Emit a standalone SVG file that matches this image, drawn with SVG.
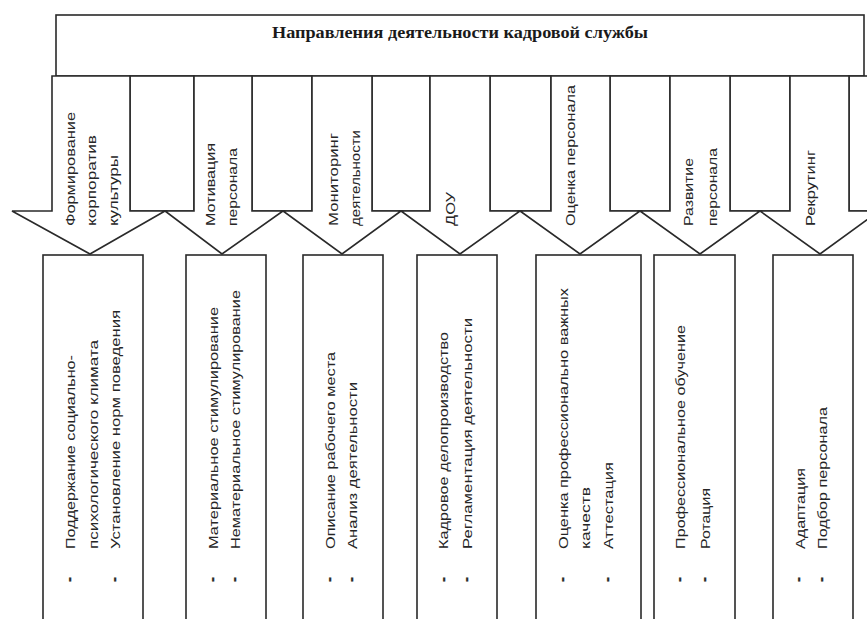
<svg xmlns="http://www.w3.org/2000/svg" width="867" height="619" viewBox="0 0 867 619">
<style>
.ln{fill:#fff;stroke:#2a2a2a;stroke-width:1.6;stroke-linejoin:miter}
.t{font-family:"Liberation Sans",Arial,sans-serif;font-size:12px;fill:#262626}
.b{font-family:"Liberation Sans",Arial,sans-serif;font-size:15px;font-weight:bold;fill:#262626;stroke:#262626;stroke-width:0.4}
.h{font-family:"Liberation Serif","Times New Roman",serif;font-size:16px;font-weight:bold;fill:#1a1a1a}
</style>
<rect width="867" height="619" fill="#fff"/>
<g id="header">
<rect class="ln" x="56" y="15" width="808" height="61"/>
<text class="h" x="460" y="38" text-anchor="middle" textLength="376" lengthAdjust="spacingAndGlyphs">Направления деятельности кадровой службы</text>
</g>
<g id="separators">
<rect class="ln" x="130" y="76" width="64" height="135"/>
<rect class="ln" x="252" y="76" width="60" height="135"/>
<rect class="ln" x="372" y="76" width="58" height="135"/>
<rect class="ln" x="490" y="76" width="61" height="135"/>
<rect class="ln" x="610" y="76" width="60" height="135"/>
<rect class="ln" x="730" y="76" width="60" height="135"/>
<rect class="ln" x="849" y="76" width="60" height="135"/>
</g>
<g id="connectors">
<g id="dir-1">
<polygon class="ln" points="52,76 52,211 12,211 90,254 165,211 130,211 130,76"/>
<text class="t" transform="translate(74.5,226) rotate(-90)" textLength="114" lengthAdjust="spacingAndGlyphs">Формирование</text>
<text class="t" transform="translate(96,226) rotate(-90)" textLength="91" lengthAdjust="spacingAndGlyphs">корпоратив</text>
<text class="t" transform="translate(117.5,226) rotate(-90)" textLength="71" lengthAdjust="spacingAndGlyphs">культуры</text>
</g>
<g id="dir-2">
<polygon class="ln" points="194,76 194,211 165,211 222,254 283,211 252,211 252,76"/>
<text class="t" transform="translate(214.5,226) rotate(-90)" textLength="83" lengthAdjust="spacingAndGlyphs">Мотивация</text>
<text class="t" transform="translate(236.5,226) rotate(-90)" textLength="78" lengthAdjust="spacingAndGlyphs">персонала</text>
</g>
<g id="dir-3">
<polygon class="ln" points="312,76 312,211 283,211 342,254 401,211 372,211 372,76"/>
<text class="t" transform="translate(337.5,226) rotate(-90)" textLength="93" lengthAdjust="spacingAndGlyphs">Мониторинг</text>
<text class="t" transform="translate(359.5,226) rotate(-90)" textLength="96" lengthAdjust="spacingAndGlyphs">деятельности</text>
</g>
<g id="dir-4">
<polygon class="ln" points="430,76 430,211 401,211 460,254 520,211 490,211 490,76"/>
<text class="t" transform="translate(454.5,226) rotate(-90)" textLength="34" lengthAdjust="spacingAndGlyphs">ДОУ</text>
</g>
<g id="dir-5">
<polygon class="ln" points="551,76 551,211 520,211 580,254 640,211 610,211 610,76"/>
<text class="t" transform="translate(574.5,226) rotate(-90)" textLength="141" lengthAdjust="spacingAndGlyphs">Оценка персонала</text>
</g>
<g id="dir-6">
<polygon class="ln" points="670,76 670,211 640,211 700,254 760,211 730,211 730,76"/>
<text class="t" transform="translate(692.5,226) rotate(-90)" textLength="68" lengthAdjust="spacingAndGlyphs">Развитие</text>
<text class="t" transform="translate(716.5,226) rotate(-90)" textLength="78" lengthAdjust="spacingAndGlyphs">персонала</text>
</g>
<g id="dir-7">
<polygon class="ln" points="790,76 790,211 760,211 820,254 879,211 849,211 849,76"/>
<text class="t" transform="translate(814.5,226) rotate(-90)" textLength="76" lengthAdjust="spacingAndGlyphs">Рекрутинг</text>
</g>
</g>
<g id="task-1">
<rect class="ln" x="43" y="255" width="100" height="380"/>
<text class="b" transform="translate(74,582) rotate(-90)">-</text>
<text class="b" transform="translate(119,582) rotate(-90)">-</text>
<text class="t" transform="translate(74.5,549) rotate(-90)" textLength="194" lengthAdjust="spacingAndGlyphs">Поддержание социально-</text>
<text class="t" transform="translate(97.5,549) rotate(-90)" textLength="209" lengthAdjust="spacingAndGlyphs">психологического климата</text>
<text class="t" transform="translate(119.5,549) rotate(-90)" textLength="239" lengthAdjust="spacingAndGlyphs">Установление норм поведения</text>
</g>
<g id="task-2">
<rect class="ln" x="186" y="255" width="80" height="380"/>
<text class="b" transform="translate(217,582) rotate(-90)">-</text>
<text class="b" transform="translate(239,582) rotate(-90)">-</text>
<text class="t" transform="translate(217.5,549) rotate(-90)" textLength="242" lengthAdjust="spacingAndGlyphs">Материальное стимулирование</text>
<text class="t" transform="translate(239.5,549) rotate(-90)" textLength="259" lengthAdjust="spacingAndGlyphs">Нематериальное стимулирование</text>
</g>
<g id="task-3">
<rect class="ln" x="303" y="255" width="80" height="380"/>
<text class="b" transform="translate(334,582) rotate(-90)">-</text>
<text class="b" transform="translate(356,582) rotate(-90)">-</text>
<text class="t" transform="translate(334.5,549) rotate(-90)" textLength="197" lengthAdjust="spacingAndGlyphs">Описание рабочего места</text>
<text class="t" transform="translate(356.5,549) rotate(-90)" textLength="167" lengthAdjust="spacingAndGlyphs">Анализ деятельности</text>
</g>
<g id="task-4">
<rect class="ln" x="417" y="255" width="80" height="380"/>
<text class="b" transform="translate(448,582) rotate(-90)">-</text>
<text class="b" transform="translate(471,582) rotate(-90)">-</text>
<text class="t" transform="translate(447.5,549) rotate(-90)" textLength="217" lengthAdjust="spacingAndGlyphs">Кадровое делопроизводство</text>
<text class="t" transform="translate(471.5,549) rotate(-90)" textLength="231" lengthAdjust="spacingAndGlyphs">Регламентация  деятельности</text>
</g>
<g id="task-5">
<rect class="ln" x="536" y="255" width="105" height="380"/>
<text class="b" transform="translate(567,582) rotate(-90)">-</text>
<text class="b" transform="translate(612,582) rotate(-90)">-</text>
<text class="t" transform="translate(567.5,549) rotate(-90)" textLength="261" lengthAdjust="spacingAndGlyphs">Оценка профессионально важных</text>
<text class="t" transform="translate(589.5,549) rotate(-90)" textLength="62" lengthAdjust="spacingAndGlyphs">качеств</text>
<text class="t" transform="translate(612.5,549) rotate(-90)" textLength="87" lengthAdjust="spacingAndGlyphs">Аттестация</text>
</g>
<g id="task-6">
<rect class="ln" x="654" y="255" width="81" height="380"/>
<text class="b" transform="translate(684,582) rotate(-90)">-</text>
<text class="b" transform="translate(709,582) rotate(-90)">-</text>
<text class="t" transform="translate(684.5,549) rotate(-90)" textLength="224" lengthAdjust="spacingAndGlyphs">Профессиональное обучение</text>
<text class="t" transform="translate(709.5,549) rotate(-90)" textLength="61" lengthAdjust="spacingAndGlyphs">Ротация</text>
</g>
<g id="task-7">
<rect class="ln" x="773" y="255" width="80" height="380"/>
<text class="b" transform="translate(803,582) rotate(-90)">-</text>
<text class="b" transform="translate(826,582) rotate(-90)">-</text>
<text class="t" transform="translate(804.5,549) rotate(-90)" textLength="81" lengthAdjust="spacingAndGlyphs">Адаптация</text>
<text class="t" transform="translate(826.5,549) rotate(-90)" textLength="142" lengthAdjust="spacingAndGlyphs">Подбор персонала</text>
</g>
</svg>
